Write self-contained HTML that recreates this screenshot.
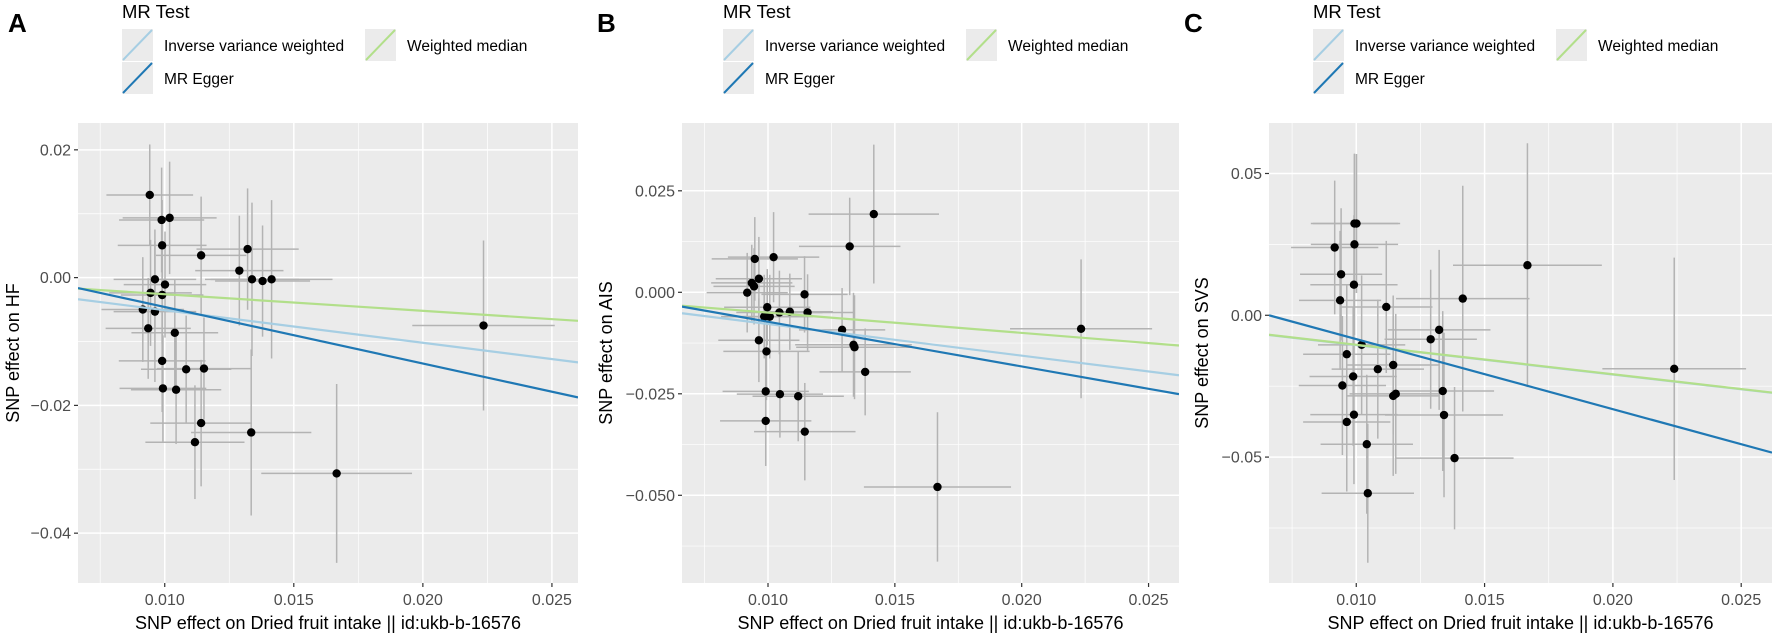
<!DOCTYPE html>
<html><head><meta charset="utf-8">
<style>
html,body{margin:0;padding:0;background:#fff;}
svg{display:block;font-family:"Liberation Sans",Arial,sans-serif;}
</style></head>
<body>
<svg id="fig" width="1772" height="635" viewBox="0 0 1772 635" xmlns="http://www.w3.org/2000/svg">
<defs>
<clipPath id="clipA"><rect x="78" y="123" width="500" height="460"/></clipPath>
<clipPath id="clipB"><rect x="682" y="123" width="497" height="460"/></clipPath>
<clipPath id="clipC"><rect x="1269" y="123" width="503" height="460"/></clipPath>
</defs>
<g><text x="8" y="32" font-size="26" font-weight="bold" fill="#000">A</text></g>
<g><text x="597" y="32" font-size="26" font-weight="bold" fill="#000">B</text></g>
<g><text x="1184" y="32" font-size="26" font-weight="bold" fill="#000">C</text></g>
</svg>
<script>
// ---- shared axis ticks ----
const xMajor=[0.010,0.015,0.020,0.025];
const xMinor=[0.0075,0.0125,0.0175,0.0225];
const xTickLabels=["0.010","0.015","0.020","0.025"];
const legendLabels=["Inverse variance weighted","MR Egger","Weighted median"];
// ---- Panel A (HF) ----
const aX=[0.00942,0.00988,0.01019,0.00990,0.01141,0.01321,0.01289,0.01338,0.01379,0.01414,0.00962,0.01001,0.00945,0.00990,0.00915,0.00962,0.00936,0.01039,0.00990,0.01083,0.01152,0.00993,0.01044,0.01141,0.01335,0.01117,0.01666,0.02235];
const aY=[0.01294,0.00902,0.00935,0.00505,0.00348,0.00446,0.00109,-0.00027,-0.00054,-0.00027,-0.00027,-0.00109,-0.00239,-0.00272,-0.0050,-0.00533,-0.00794,-0.00864,-0.01304,-0.01435,-0.01424,-0.01734,-0.01755,-0.02277,-0.02424,-0.02576,-0.03065,-0.0075];
const aXerr=[0.00168,0.00165,0.00182,0.00172,0.00175,0.00198,0.00171,0.00182,0.00184,0.00236,0.0016,0.0016,0.0016,0.0016,0.0016,0.0016,0.00165,0.00168,0.00168,0.00175,0.00182,0.00168,0.00175,0.00197,0.00233,0.00192,0.00292,0.00276];
const aYerr=[0.0079,0.0082,0.0088,0.0071,0.0092,0.0095,0.0086,0.012,0.0087,0.0124,0.0078,0.0083,0.0083,0.0076,0.0082,0.011,0.0079,0.0083,0.008,0.0084,0.008,0.0083,0.0085,0.0099,0.013,0.0089,0.014,0.0133];
const aYMajor=[0.02,0,-0.02,-0.04];
const aYMinor=[0.01,-0.01,-0.03];
const aYLabels=["0.02","0.00","\u22120.02","\u22120.04"];
const aIvw=[-0.51,0];
const aEgger=[-0.884,0.00424];
const aWm=[-0.26,0];
// ---- Panel B (AIS) ----
const bX=[0.01417,0.01322,0.01022,0.00948,0.00964,0.00936,0.00945,0.00918,0.01144,0.00997,0.00985,0.01007,0.01045,0.01086,0.01156,0.01292,0.00964,0.01337,0.01341,0.00994,0.01383,0.00991,0.01047,0.01119,0.00991,0.01145,0.01668,0.02234];
const bY=[0.01926,0.0113,0.00865,0.00822,0.00334,0.00231,0.00146,-0.00009,-0.00051,-0.00368,-0.00599,-0.00599,-0.00497,-0.00479,-0.00497,-0.00925,-0.01182,-0.01293,-0.01353,-0.01456,-0.01961,-0.0244,-0.02509,-0.0256,-0.03168,-0.03433,-0.04795,-0.00899];
const bXerr=[0.00257,0.0020,0.0018,0.0017,0.0017,0.0016,0.0016,0.0016,0.0017,0.0017,0.0017,0.0017,0.0017,0.0017,0.0018,0.0017,0.0016,0.0023,0.0023,0.0017,0.0018,0.0017,0.0017,0.0018,0.0018,0.0020,0.0029,0.0028];
const bYerr=[0.0171,0.012,0.0111,0.0103,0.0103,0.0094,0.0094,0.0098,0.0094,0.0094,0.0103,0.0103,0.0103,0.0094,0.0094,0.0103,0.0103,0.0128,0.0128,0.012,0.0107,0.0107,0.0107,0.0111,0.0111,0.012,0.0184,0.0171];
const bYMajor=[0.025,0,-0.025,-0.05];
const bYMinor=[0.0125,-0.0125,-0.0375,-0.0625];
const bYLabels=["0.025","0.000","\u22120.025","\u22120.050"];
const bIvw=[-0.78,0];
const bEgger=[-1.101,0.00376];
const bWm=[-0.50,0];
// ---- Panel C (SVS) ----
const cX=[0.00916,0.00993,0.00993,0.01001,0.00941,0.00991,0.00937,0.01117,0.01415,0.01667,0.01323,0.0129,0.01021,0.00963,0.01084,0.01144,0.00988,0.00946,0.01144,0.01154,0.01337,0.00991,0.00963,0.01342,0.01041,0.01383,0.01045,0.02239];
const cY=[0.0239,0.025,0.03235,0.03235,0.01446,0.01078,0.00527,0.00294,0.00588,0.01765,-0.00515,-0.00846,-0.01042,-0.01373,-0.019,-0.01752,-0.02157,-0.02476,-0.02843,-0.0277,-0.02672,-0.03505,-0.03762,-0.03517,-0.04547,-0.05037,-0.06275,-0.01887];
const cXerr=[0.0017,0.0017,0.0017,0.0017,0.0016,0.0017,0.0016,0.0018,0.0026,0.0029,0.0020,0.0018,0.0017,0.0017,0.0018,0.0018,0.0017,0.0017,0.0018,0.0018,0.0020,0.0017,0.0017,0.0023,0.0018,0.0023,0.0018,0.0028];
const cYerr=[0.0236,0.032,0.0245,0.0245,0.0233,0.0245,0.0245,0.0233,0.0398,0.043,0.0282,0.0245,0.0245,0.0245,0.0245,0.0245,0.0245,0.0245,0.0282,0.0282,0.0282,0.0245,0.0245,0.029,0.0245,0.0251,0.0245,0.0392];
const cYMajor=[0.05,0,-0.05];
const cYMinor=[0.025,-0.025,-0.075];
const cYLabels=["0.05","0.00","\u22120.05"];
const cEgger=[-2.47,0.0163];
const cWm=[-1.04,0];
const cIvw=[-1.04,-0.0001];

const NS="http://www.w3.org/2000/svg";
const svg=document.getElementById('fig');
function mk(tag,attrs,parent){const e=document.createElementNS(NS,tag);for(const k in attrs)e.setAttribute(k,attrs[k]);(parent||svg).appendChild(e);return e;}

function drawPanel(p){
  const sx=v=>p.l+(v-p.xd[0])/(p.xd[1]-p.xd[0])*(p.r-p.l);
  const sy=v=>p.b-(v-p.yd[0])/(p.yd[1]-p.yd[0])*(p.b-p.t);
  const g=mk('g',{});
  
  
  const bg=mk('rect',{x:p.l,y:p.t,width:p.r-p.l,height:p.b-p.t,fill:'#EBEBEB'},g);
  
  
  const grid=mk('g',{},g);
  
  
  xMinor.forEach(v=>{mk('line',{x1:sx(v),x2:sx(v),y1:p.t,y2:p.b,stroke:'#fff','stroke-width':0.7},grid);});
  p.yMinor.forEach(v=>{mk('line',{x1:p.l,x2:p.r,y1:sy(v),y2:sy(v),stroke:'#fff','stroke-width':0.7},grid);});
  xMajor.forEach(v=>{mk('line',{x1:sx(v),x2:sx(v),y1:p.t,y2:p.b,stroke:'#fff','stroke-width':1.5},grid);});
  p.yMajor.forEach(v=>{mk('line',{x1:p.l,x2:p.r,y1:sy(v),y2:sy(v),stroke:'#fff','stroke-width':1.5},grid);});
  const xa=mk('g',{},g);
  
  
  xMajor.forEach((v,i)=>{
    mk('line',{x1:sx(v),x2:sx(v),y1:p.b,y2:p.b+4,stroke:'#333','stroke-width':1.2},xa);
    const t=mk('text',{x:sx(v),y:p.b+22,'text-anchor':'middle','font-size':16,fill:'#4D4D4D'},xa);
    
    
    t.textContent=xTickLabels[i];
  });
  const ya=mk('g',{},g);
  
  
  p.yMajor.forEach((v,i)=>{
    mk('line',{x1:p.l-4,x2:p.l,y1:sy(v),y2:sy(v),stroke:'#333','stroke-width':1.2},ya);
    const t=mk('text',{x:p.l-7,y:sy(v)+5.5,'text-anchor':'end','font-size':16,fill:'#4D4D4D'},ya);
    
    
    t.textContent=p.yLabels[i];
  });
  const xt=mk('text',{x:(p.l+p.r)/2,y:p.b+46,'text-anchor':'middle','font-size':18,fill:'#000'},g);
  
  
  xt.textContent='SNP effect on Dried fruit intake || id:ukb-b-16576';
  const cy=(p.t+p.b)/2;
  const yt=mk('text',{x:p.ytx,y:cy,'text-anchor':'middle','font-size':18,fill:'#000',transform:'rotate(-90 '+p.ytx+' '+cy+')'},g);
  
  
  yt.textContent=p.ytitle;
  const dg=mk('g',{'clip-path':'url(#'+p.clip+')'},g);
  
  
  p.X.forEach((x,i)=>{
    const y=p.Y[i];
    const h=mk('line',{x1:sx(x-p.Xe[i]),x2:sx(x+p.Xe[i]),y1:sy(y),y2:sy(y),stroke:'#B3B3B3','stroke-width':1.5},dg);
    
    
    const v=mk('line',{x1:sx(x),x2:sx(x),y1:sy(y-p.Ye[i]),y2:sy(y+p.Ye[i]),stroke:'#B3B3B3','stroke-width':1.5},dg);
    
    
  });
  p.X.forEach((x,i)=>{
    const c=mk('circle',{cx:sx(x),cy:sy(p.Y[i]),r:4.2,fill:'#000'},dg);
    
    
  });
  p.lines.forEach(L=>{
    const [m,b0]=L.coef;
    const ln=mk('line',{x1:sx(p.xd[0]),y1:sy(m*p.xd[0]+b0),x2:sx(p.xd[1]),y2:sy(m*p.xd[1]+b0),stroke:L.color,'stroke-width':2.2},dg);
    
    
  });
  const lg=mk('g',{},g);
  
  
  const lx=p.lx;
  const tt=mk('text',{x:lx,y:18,'font-size':18.5,fill:'#000'},lg);
  
  
  tt.textContent='MR Test';
  const keys=[[lx,29,'#A6CEE3',legendLabels[0]],[lx,62,'#1F78B4',legendLabels[1]],[lx+243,29,'#B2DF8A',legendLabels[2]]];
  keys.forEach(k=>{
    const e=mk('g',{},lg);
    
    
    mk('rect',{x:k[0],y:k[1],width:31,height:32,fill:'#EBEBEB'},e);
    mk('line',{x1:k[0]+1,y1:k[1]+31,x2:k[0]+30,y2:k[1]+1,stroke:k[2],'stroke-width':2},e);
    const t=mk('text',{x:k[0]+42,y:k[1]+22,'font-size':15.5,fill:'#000'},e);
    t.textContent=k[3];
  });
}

drawPanel({id:'a',l:78,r:578,t:123,b:583,xd:[0.00664,0.02601],yd:[-0.0478,0.0242],
  X:aX,Y:aY,Xe:aXerr,Ye:aYerr,yMajor:aYMajor,yMinor:aYMinor,yLabels:aYLabels,
  ytitle:'SNP effect on HF',ytx:19,clip:'clipA',lx:122,
  lines:[{coef:aIvw,color:'#A6CEE3',name:'ivw-line'},{coef:aWm,color:'#B2DF8A',name:'weighted-median-line'},{coef:aEgger,color:'#1F78B4',name:'mr-egger-line'}]});
drawPanel({id:'b',l:682,r:1179,t:123,b:583,xd:[0.00661,0.0262],yd:[-0.0716,0.0417],
  X:bX,Y:bY,Xe:bXerr,Ye:bYerr,yMajor:bYMajor,yMinor:bYMinor,yLabels:bYLabels,
  ytitle:'SNP effect on AIS',ytx:612,clip:'clipB',lx:723,
  lines:[{coef:bIvw,color:'#A6CEE3',name:'ivw-line'},{coef:bWm,color:'#B2DF8A',name:'weighted-median-line'},{coef:bEgger,color:'#1F78B4',name:'mr-egger-line'}]});
drawPanel({id:'c',l:1269,r:1772,t:123,b:583,xd:[0.0066,0.0262],yd:[-0.0944,0.0678],
  X:cX,Y:cY,Xe:cXerr,Ye:cYerr,yMajor:cYMajor,yMinor:cYMinor,yLabels:cYLabels,
  ytitle:'SNP effect on SVS',ytx:1208,clip:'clipC',lx:1313,
  lines:[{coef:cIvw,color:'#A6CEE3',name:'ivw-line'},{coef:cWm,color:'#B2DF8A',name:'weighted-median-line'},{coef:cEgger,color:'#1F78B4',name:'mr-egger-line'}]});
</script>
</body></html>
